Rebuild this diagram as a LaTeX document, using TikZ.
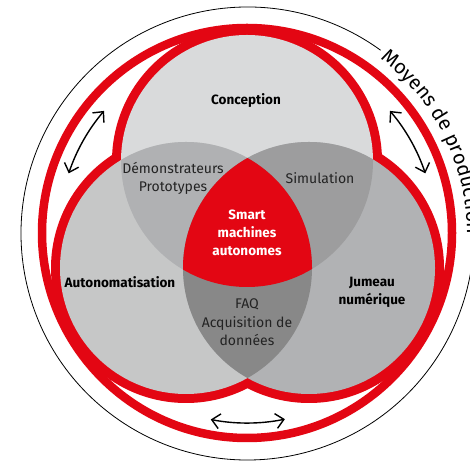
\documentclass[tikz,border=0pt]{standalone}
\usepackage{fontspec}
\setmainfont{Fira Sans}
\usetikzlibrary{arrows.meta,decorations.text}
\definecolor{rd}{RGB}{227,6,19}
\definecolor{cT}{RGB}{217,218,219}
\definecolor{cL}{RGB}{198,199,199}
\definecolor{cR}{RGB}{177,178,180}
\definecolor{cTL}{RGB}{176,177,179}
\definecolor{cTR}{RGB}{157,157,158}
\definecolor{cLR}{RGB}{136,136,136}
\definecolor{txt}{RGB}{35,35,35}
\begin{document}
\begin{tikzpicture}[x=1pt,y=1pt,
  lbl/.style={font=\fontsize{14}{18.5}\selectfont, align=center, text=txt, inner sep=0pt},
  blbl/.style={font=\fontsize{13.5}{18}\selectfont\bfseries, align=center, text=black, inner sep=0pt},
  tipb/.tip={Straight Barb[length=8pt,width=15pt]},
  dbl/.style={line width=1.4pt, tipb-tipb}]
\useasboundingbox (0,0) rectangle (470,462);
\clip (0,0) rectangle (470,462);
\fill[white] (0,0) rectangle (470,462);
\coordinate (O) at (247,229);
\coordinate (B) at (247.5,228.5);
\coordinate (T) at (247,301);
\coordinate (L) at (186,194);
\coordinate (R) at (309,194);
% outer black circle with text
\draw[line width=0.8pt] (B) ++(54:226.5) arc[start angle=54, end angle=352, radius=226.5];
\path[decorate, decoration={text along path, text align=left,
  text={|\fontsize{20}{24}\selectfont|Moyens de production}}]
  (B) ++(52.8:219.5) arc[start angle=52.8, end angle=-60, radius=219.5];
% red ring
\draw[rd, line width=8.5pt] (O) circle[radius=205];
% union outline
\foreach \c in {T,L,R} \draw[rd, line width=18pt] (\c) circle[radius=126];
% fills
\fill[cT] (T) circle[radius=126];
\fill[cL] (L) circle[radius=126];
\fill[cR] (R) circle[radius=126];
\begin{scope}
  \clip (T) circle[radius=126];
  \fill[cTL] (L) circle[radius=126];
  \fill[cTR] (R) circle[radius=126];
\end{scope}
\begin{scope}
  \clip (L) circle[radius=126];
  \fill[cLR] (R) circle[radius=126];
\end{scope}
\begin{scope}
  \clip (T) circle[radius=126];
  \clip (L) circle[radius=126];
  \fill[rd] (R) circle[radius=126];
\end{scope}
% arrows
\draw[dbl] (O) ++(139.5:188) arc[start angle=139.5, end angle=161.5, radius=188];
\draw[dbl] (O) ++(18.5:188) arc[start angle=18.5, end angle=40.5, radius=188];
\draw[dbl] (O) ++(259:190) arc[start angle=259, end angle=281.5, radius=190];
% labels
\node[blbl] (conc) at (246,361) {Conception};
\node[lbl] (demo) at (173,283.5) {Démonstrateurs\\Prototypes};
\node[lbl] (simu) at (320,284) {Simulation};
\node[blbl, text=white] (smart) at (247,229.5) {Smart\\machines\\autonomes};
\node[blbl] (auto) at (120,180) {Autonomatisation};
\node[blbl] (jum) at (372,170) {Jumeau\\numérique};
\node[lbl] (faq) at (247,139.5) {FAQ\\Acquisition de\\données};
\end{tikzpicture}
\end{document}
